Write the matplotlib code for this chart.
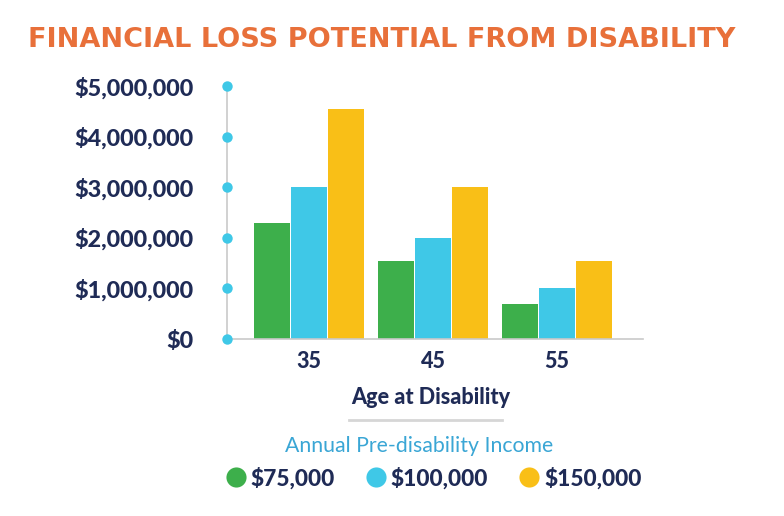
import matplotlib
matplotlib.use("Agg")
import matplotlib.pyplot as plt
from matplotlib.lines import Line2D
import numpy as np

ages = ["35", "45", "55"]
incomes = ["$75,000", "$100,000", "$150,000"]
loss_75k = [2300000, 1550000, 700000]
loss_100k = [3000000, 2000000, 1000000]
loss_150k = [4550000, 3000000, 1550000]
yticks = [0, 1000000, 2000000, 3000000, 4000000, 5000000]
ytick_labels = ["$0", "$1,000,000", "$2,000,000", "$3,000,000", "$4,000,000", "$5,000,000"]

colors = ["#3daf4b", "#3fc8e7", "#f9bf17"]
navy = "#1f2b56"
orange = "#e8703a"
legend_blue = "#3aa6d5"
grey = "#c9c9c9"
HEAVY = 900

W, H = 784, 516
fig = plt.figure(figsize=(W / 100, H / 100), dpi=100)
fig.patch.set_facecolor("white")
ax = fig.add_axes([227 / W, 1 - 339 / H, (643 - 227) / W, (339 - 86) / H])

x = np.arange(len(ages))
bw = 0.292
step = 0.30
series = [loss_75k, loss_100k, loss_150k]
for i, vals in enumerate(series):
    ax.bar(x + (i - 1) * step, vals, width=bw, color=colors[i], linewidth=0, zorder=2)

xmin, xmax = -0.661, 2.694
ax.set_xlim(xmin, xmax)
ax.set_ylim(0, 5000000)

for s in ["top", "right"]:
    ax.spines[s].set_visible(False)
ax.spines["left"].set_color(grey)
ax.spines["bottom"].set_color(grey)
ax.spines["left"].set_linewidth(1.2)
ax.spines["bottom"].set_linewidth(1.2)

ax.plot([xmin] * len(yticks), yticks, "o", color=colors[1], markersize=7.5,
        clip_on=False, zorder=5, markeredgewidth=0)

ax.set_yticks(yticks)
ax.set_yticklabels(ytick_labels, fontfamily="Lato", fontweight=HEAVY,
                   fontsize=16.8, color=navy)
ax.tick_params(axis="y", length=0, pad=24)
ax.set_xticks(x)
ax.set_xticklabels(ages, fontfamily="Lato", fontweight=HEAVY, fontsize=15.5, color=navy)
ax.tick_params(axis="x", length=0, pad=9)

ax.set_xlabel("Age at Disability", fontfamily="Lato", fontweight=HEAVY,
              fontsize=15.5, color=navy)
ax.xaxis.set_label_coords((431 - 227) / (643 - 227), -(397 - 339) / (339 - 86))
ax.xaxis.label.set_verticalalignment("center")

# separator line
fig.add_artist(Line2D([349 / W, 502 / W], [1 - 420 / H, 1 - 420 / H],
                      color="#d6d6d6", linewidth=2))

fig.text(382 / W, 1 - 40 / H, "FINANCIAL LOSS POTENTIAL FROM DISABILITY",
         ha="center", va="center", fontfamily="DejaVu Sans", fontweight="bold",
         fontsize=19.5, color=orange)

fig.text(419 / W, 1 - 446 / H, "Annual Pre-disability Income", ha="center", va="center",
         fontfamily="Lato", fontweight="normal", fontsize=15.3, color=legend_blue)

handles = [Line2D([], [], linestyle="none", marker="o", markersize=14.5,
                  markerfacecolor=c, markeredgewidth=0) for c in colors]
leg = fig.legend(handles, incomes, loc="center", bbox_to_anchor=(433 / W, 1 - 478 / H),
                 ncol=3, frameon=False, handletextpad=0.15, columnspacing=1.3,
                 handlelength=1.0,
                 prop={"family": "Lato", "weight": HEAVY, "size": 16.4})
for t in leg.get_texts():
    t.set_color(navy)

fig.savefig("out.png", dpi=100, facecolor="white")
